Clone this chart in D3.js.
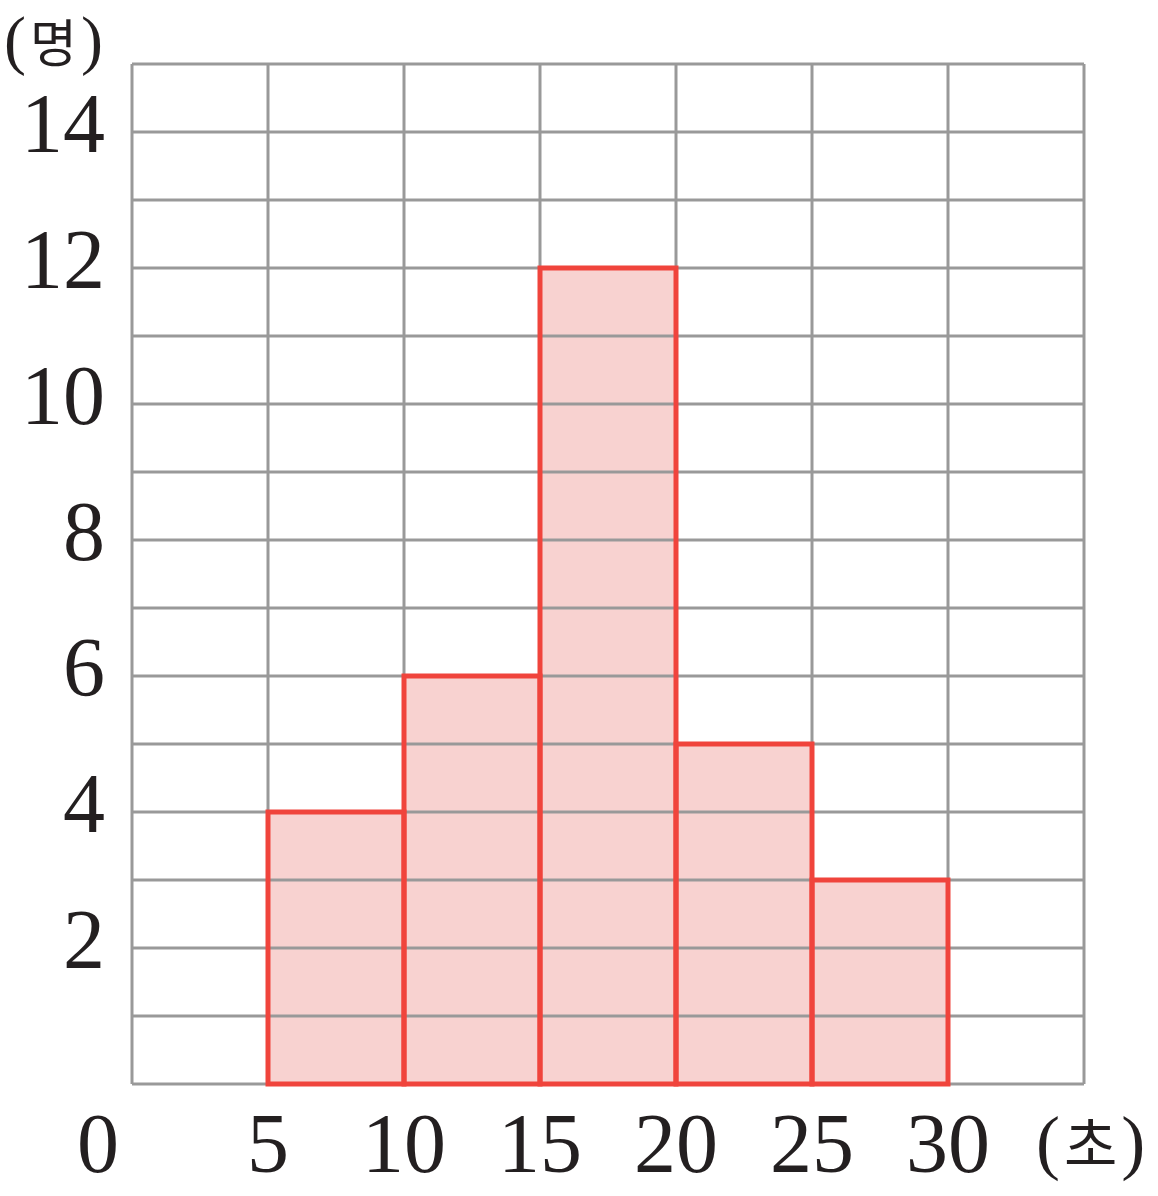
<!DOCTYPE html>
<html><head><meta charset="utf-8">
<script src="https://cdn.jsdelivr.net/npm/d3@7"></script>
<style>body{margin:0;background:#fff}</style>
</head><body>
<svg id="c" width="1158" height="1196"></svg>
<script>
const binStarts = [5, 10, 15, 20, 25];
const binWidth = 5;
const counts = [4, 6, 12, 5, 3];
const xTicks = [0, 5, 10, 15, 20, 25, 30];
const yTicks = [2, 4, 6, 8, 10, 12, 14];
const xUnit = "초";
const yUnit = "명";

const svg = d3.select("#c");
const x = d3.scaleLinear().domain([0, 35]).range([132, 1084]);
const y = d3.scaleLinear().domain([0, 15]).range([1084, 64]);
const grid = "#999999";

svg.append("g").selectAll("rect").data(binStarts).join("rect")
  .attr("x", (d) => x(d)).attr("width", x(binWidth) - x(0))
  .attr("y", (d, i) => y(counts[i])).attr("height", (d, i) => y(0) - y(counts[i]))
  .attr("fill", "#f8d2d0");

const g = svg.append("g");
g.selectAll("line.h").data(d3.range(0, 16)).join("line")
  .attr("x1", x(0)).attr("x2", x(35)).attr("y1", d => y(d)).attr("y2", d => y(d))
  .attr("stroke", grid).attr("stroke-width", 3);
g.selectAll("line.v").data(d3.range(0, 36, 5)).join("line")
  .attr("y1", y(0)).attr("y2", y(15)).attr("x1", d => x(d)).attr("x2", d => x(d))
  .attr("stroke", grid).attr("stroke-width", 3);

svg.append("g").selectAll("rect").data(binStarts).join("rect")
  .attr("x", (d) => x(d)).attr("width", x(binWidth) - x(0))
  .attr("y", (d, i) => y(counts[i])).attr("height", (d, i) => y(0) - y(counts[i]))
  .attr("fill", "none").attr("stroke", "#f0443c").attr("stroke-width", 5);

const font = "'Liberation Serif','DejaVu Serif',serif";
const fs = 84;

svg.append("g").selectAll("text").data(yTicks).join("text")
  .attr("x", 105).attr("y", d => y(d) + 20)
  .attr("text-anchor", "end").attr("font-family", font).attr("font-size", fs)
  .attr("fill", "#231f20").text(d => d);

svg.append("g").selectAll("text").data(xTicks).join("text")
  .attr("x", d => d === 0 ? 98 : x(d)).attr("y", 1172)
  .attr("text-anchor", "middle").attr("font-family", font).attr("font-size", fs)
  .attr("fill", "#231f20").text(d => d);

const cjk = "'Noto Sans CJK KR',sans-serif";
function unit(xPos, yPos, parenSize, hangulSize, txt) {
  const t = svg.append("text").attr("x", xPos).attr("y", yPos).attr("fill", "#231f20");
  t.append("tspan").attr("font-family", font).attr("font-size", parenSize).text("(");
  t.append("tspan").attr("font-family", cjk).attr("font-size", hangulSize).attr("dx", 4).text(txt);
  t.append("tspan").attr("font-family", font).attr("font-size", parenSize).attr("dx", 4).text(")");
}
unit(4, 62, 66, 51, yUnit);
unit(1036, 1166, 72, 58, xUnit);
</script>
</body></html>
